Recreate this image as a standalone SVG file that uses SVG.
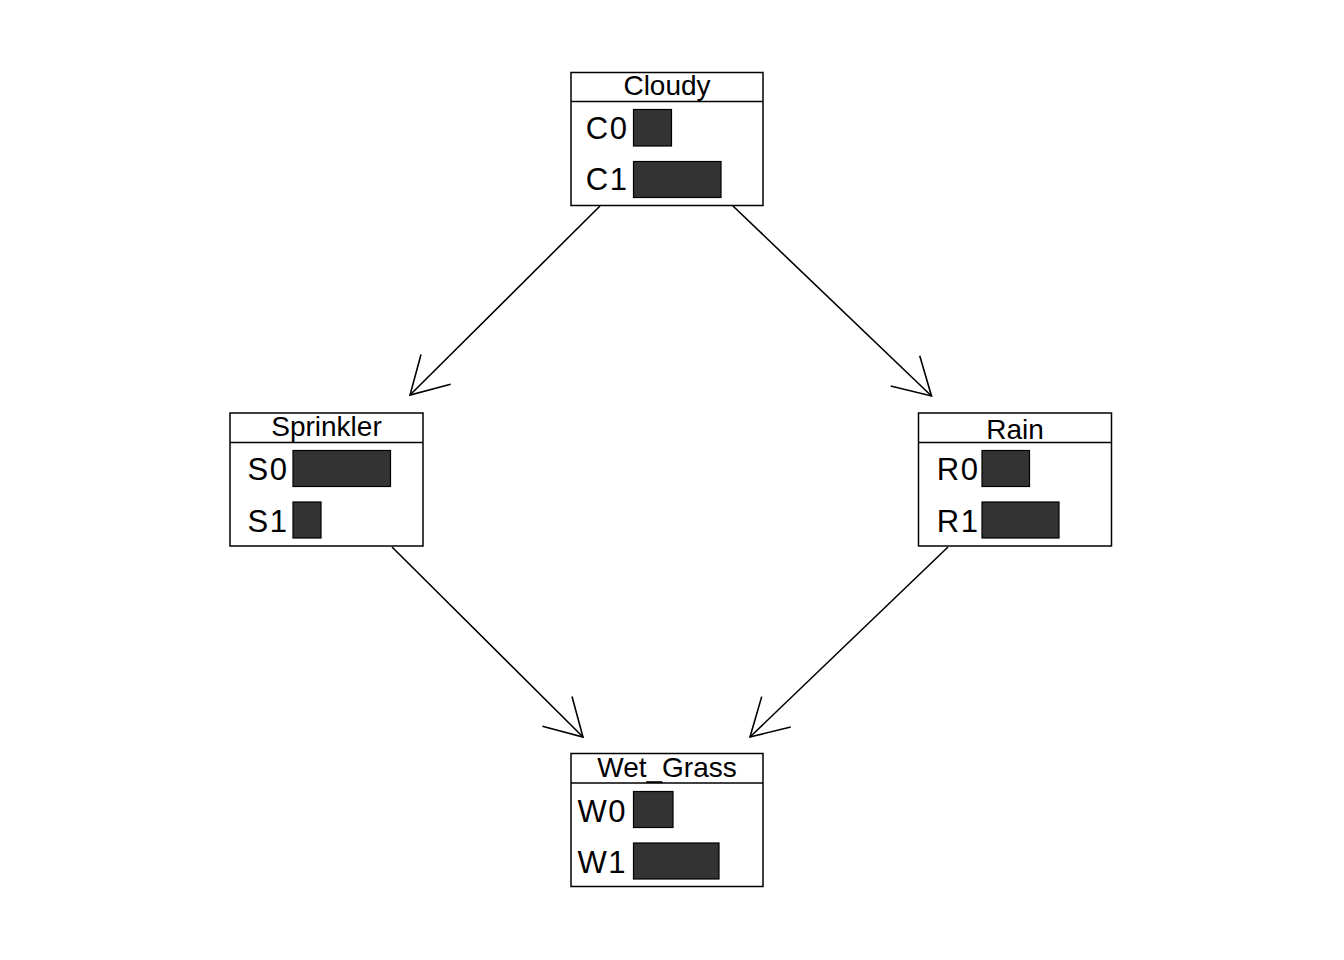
<svg xmlns="http://www.w3.org/2000/svg" width="1344" height="960" viewBox="0 0 1344 960">
  <style>
    .frame { fill: #ffffff; stroke: #000000; stroke-width: 1.5; }
    .sep { stroke: #000000; stroke-width: 1.5; }
    .bar { fill: #333333; stroke: #000000; stroke-width: 1.2; }
    .title { font-family: "Liberation Sans", Arial, sans-serif; font-size: 28px; fill: #000000; text-anchor: middle; }
    .state { font-family: "Liberation Sans", Arial, sans-serif; font-size: 31px; letter-spacing: 1.5px; fill: #000000; text-anchor: end; }
    .edge { fill: none; stroke: #000000; stroke-width: 1.6; }
  </style>
  <defs>
    <marker id="vee" markerUnits="userSpaceOnUse" markerWidth="50" markerHeight="50" viewBox="-45 -25 50 50" refX="0" refY="0" orient="auto" overflow="visible">
      <path d="M -36.4 -21 L 0 0 L -36.4 21" fill="none" stroke="#000000" stroke-width="1.6"/>
    </marker>
  </defs>
  <rect width="1344" height="960" fill="#ffffff"/>

  <!-- directed edges between the four nodes -->
  <g id="connectors">
    <line class="edge" x1="600" y1="206" x2="410" y2="395" marker-end="url(#vee)"/>
    <line class="edge" x1="733" y1="206" x2="931.5" y2="396" marker-end="url(#vee)"/>
    <line class="edge" x1="392" y1="547" x2="583" y2="737" marker-end="url(#vee)"/>
    <line class="edge" x1="948" y1="547" x2="750" y2="737" marker-end="url(#vee)"/>
  </g>

  <g id="node-cloudy">
    <rect class="frame" x="571" y="72.5" width="192" height="133"/>
    <line class="sep" x1="571" y1="101.5" x2="763" y2="101.5"/>
    <text class="title" x="667" y="95">Cloudy</text>
    <text class="state" x="628.5" y="138.5">C0</text>
    <rect class="bar" x="633.5" y="109.5" width="38" height="36.5"/>
    <text class="state" x="628.5" y="190">C1</text>
    <rect class="bar" x="633.5" y="161.5" width="87.5" height="36"/>
  </g>

  <g id="node-sprinkler">
    <rect class="frame" x="230" y="413" width="193" height="133"/>
    <line class="sep" x1="230" y1="442.5" x2="423" y2="442.5"/>
    <text class="title" x="326.5" y="435.5">Sprinkler</text>
    <text class="state" x="288.5" y="480">S0</text>
    <rect class="bar" x="293" y="450.5" width="97.5" height="36"/>
    <text class="state" x="288.5" y="531.5">S1</text>
    <rect class="bar" x="293" y="502" width="28" height="36"/>
  </g>

  <g id="node-rain">
    <rect class="frame" x="918.5" y="413" width="193" height="133"/>
    <line class="sep" x1="918.5" y1="442.5" x2="1111.5" y2="442.5"/>
    <text class="title" x="1015" y="439">Rain</text>
    <text class="state" x="979.5" y="480">R0</text>
    <rect class="bar" x="982" y="450.5" width="47.5" height="36"/>
    <text class="state" x="979.5" y="531.5">R1</text>
    <rect class="bar" x="982" y="502" width="77" height="36"/>
  </g>

  <g id="node-wet-grass">
    <rect class="frame" x="571" y="753.5" width="192" height="133"/>
    <line class="sep" x1="571" y1="783" x2="763" y2="783"/>
    <text class="title" x="667" y="777">Wet_Grass</text>
    <text class="state" x="627" y="821.5">W0</text>
    <rect class="bar" x="633.5" y="791.5" width="39.5" height="36"/>
    <text class="state" x="627" y="872.5">W1</text>
    <rect class="bar" x="633.5" y="843" width="85.5" height="36"/>
  </g>
</svg>
